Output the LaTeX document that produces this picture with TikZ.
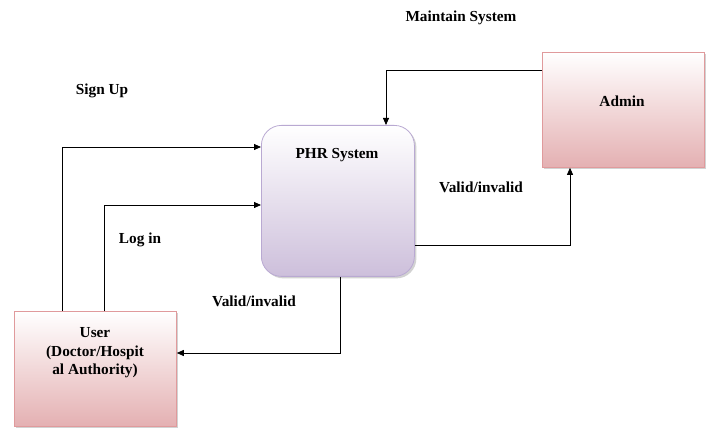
\documentclass[tikz,border=0pt]{standalone}
\usepackage{fontspec}
\setmainfont{Liberation Serif}
\usetikzlibrary{arrows.meta,shadows}
\definecolor{pinkbot}{HTML}{E4B0B2}
\definecolor{pinkline}{HTML}{E09A9C}
\definecolor{lavbot}{HTML}{CDBFDB}
\definecolor{lavline}{HTML}{B9A9D2}
\tikzset{
  lbl/.style={font=\bfseries\fontsize{15.3}{18.5}\selectfont},
  pinkbox/.style={draw=pinkline, line width=0.8pt, top color=white, bottom color=pinkbot, drop shadow={shadow xshift=2pt, shadow yshift=-2pt, fill=black!35, opacity=0.5}, inner sep=0pt},
  lavbox/.style={draw=lavline, line width=0.8pt, top color=white, bottom color=lavbot, rounded corners=20pt, drop shadow={shadow xshift=2pt, shadow yshift=-2pt, fill=black!35, opacity=0.5}, inner sep=0pt},
  conn/.style={draw=black, line width=0.8pt, -{Triangle[length=7pt,width=6pt]}},
}
\begin{document}
\begin{tikzpicture}[x=1pt,y=-1pt]
\useasboundingbox (0,0) rectangle (710,430);
% boxes
\node[pinkbox, minimum width=162pt, minimum height=115pt, anchor=north west] (user) at (14,311) {};
\node[lbl, align=center] (usert) at (95,353) {User\\(Doctor/Hospit\\al Authority)};
\node[lavbox, minimum width=153pt, minimum height=151pt, anchor=north west] (phr) at (261,125) {};
\node[lbl] (phrt) at (337,155) {PHR System};
\node[pinkbox, minimum width=162pt, minimum height=115pt, anchor=north west] (admin) at (542,52) {};
\node[lbl] (admint) at (622,101) {Admin};
% labels
\node[lbl] (maint) at (461,18) {Maintain System};
\node[lbl] (signup) at (102,91) {Sign Up};
\node[lbl] (login) at (140,240) {Log in};
\node[lbl] (valid1) at (481,187) {Valid/invalid};
\node[lbl] (valid2) at (254,301) {Valid/invalid};
% coordinates
\coordinate (c1) at (62,147);
\coordinate (c2) at (104,205);
\coordinate (c3) at (386,70);
\coordinate (c4) at (570,245);
\coordinate (c5) at (340,353);
% connectors
\draw[conn] (user.north west -| c1) -- (c1) -- (c1 -| phr.west);
\draw[conn] (user.north west -| c2) -- (c2) -- (c2 -| phr.west);
\draw[conn] (admin.west |- c3) -- (c3) -- (c3 |- phr.north);
\draw[conn] (phr.east |- c4) -- (c4) -- (c4 |- admin.south);
\draw[conn] (phr.south -| c5) -- (c5) -- (c5 -| user.east);
\end{tikzpicture}
\end{document}
